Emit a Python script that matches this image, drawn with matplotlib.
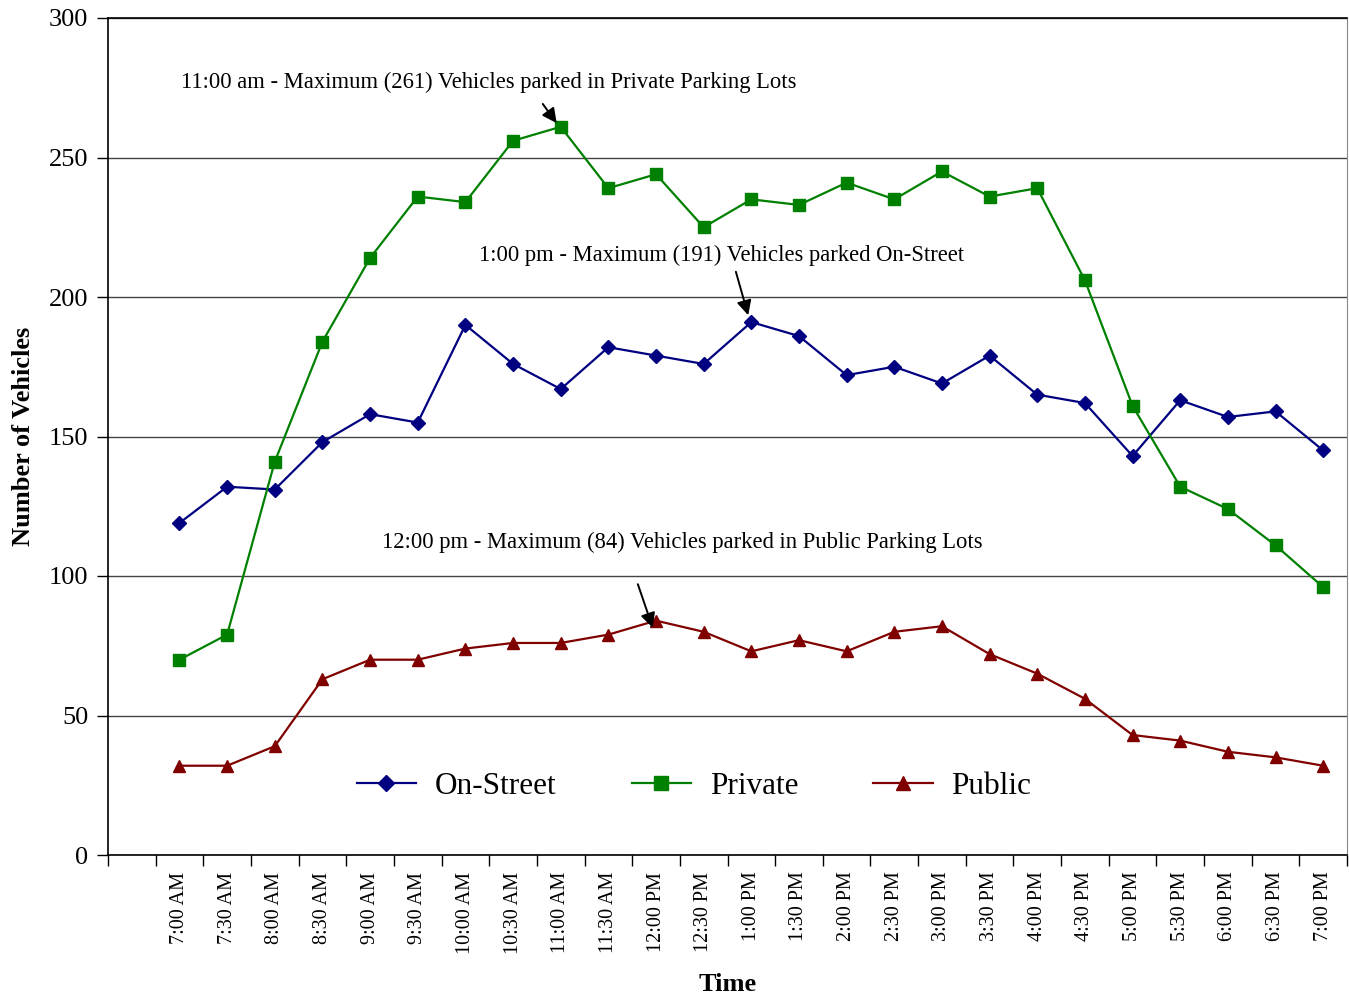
import matplotlib.pyplot as plt
import numpy as np

# half-hour count periods
times = ['7:00 AM', '7:30 AM', '8:00 AM', '8:30 AM', '9:00 AM', '9:30 AM',
         '10:00 AM', '10:30 AM', '11:00 AM', '11:30 AM', '12:00 PM', '12:30 PM',
         '1:00 PM', '1:30 PM', '2:00 PM', '2:30 PM', '3:00 PM', '3:30 PM',
         '4:00 PM', '4:30 PM', '5:00 PM', '5:30 PM', '6:00 PM', '6:30 PM', '7:00 PM']

on_street = [119, 132, 131, 148, 158, 155, 190, 176, 167, 182, 179, 176,
             191, 186, 172, 175, 169, 179, 165, 162, 143, 163, 157, 159, 145]
private = [70, 79, 141, 184, 214, 236, 234, 256, 261, 239, 244, 225,
           235, 233, 241, 235, 245, 236, 239, 206, 161, 132, 124, 111, 96]
public = [32, 32, 39, 63, 70, 70, 74, 76, 76, 79, 84, 80,
          73, 77, 73, 80, 82, 72, 65, 56, 43, 41, 37, 35, 32]

plt.rcParams['font.family'] = ['Liberation Serif', 'DejaVu Serif']

fig = plt.figure(figsize=(13.49, 9.98), dpi=100)
ax = fig.add_axes([108 / 1349, 1 - 855 / 998, 1239 / 1349, 837 / 998])

# first category slot is left empty, as in the original sheet
x = np.arange(1, len(times) + 1)

ax.plot(x, on_street, color='#000080', lw=1.6, marker='D', ms=7, label='On-Street')
ax.plot(x, private, color='#008000', lw=1.6, marker='s', ms=9, label='Private')
ax.plot(x, public, color='#800000', lw=1.6, marker='^', ms=9, label='Public')

ax.set_xlim(-0.5, len(times) + 0.5)
ax.set_ylim(0, 300)
ax.set_yticks(range(0, 301, 50))
ax.tick_params(axis='y', labelsize=19, length=8, width=1, direction='out', pad=6)
ax.yaxis.grid(True, color='#444444', lw=1)
ax.set_axisbelow(True)

ax.set_xticks(x)
ax.set_xticklabels(times, rotation=90, fontsize=14.5)
ax.tick_params(axis='x', which='major', length=0, pad=12)
ax.set_xticks(np.arange(-0.5, len(times) + 1), minor=True)
ax.tick_params(axis='x', which='minor', length=8, width=1, direction='out')

for s in ['left', 'bottom', 'top']:
    ax.spines[s].set_linewidth(1.2)
ax.spines['right'].set_color('#888888')

ax.set_ylabel('Number of Vehicles', fontsize=19, fontweight='bold', labelpad=10)
ax.set_xlabel('Time', fontsize=19, fontweight='bold', labelpad=14)

# peak annotations
arrow = dict(arrowstyle='-|>', color='black', lw=1.4, mutation_scale=22)

ax.text(7.5, 277, '11:00 am - Maximum (261) Vehicles parked in Private Parking Lots',
        fontsize=16.3, ha='center', va='center')
ax.annotate('', xy=(8.95, 261.5), xytext=(8.59, 270), arrowprops=arrow)

ax.text(12.37, 215, '1:00 pm - Maximum (191) Vehicles parked On-Street',
        fontsize=16.3, ha='center', va='center')
ax.annotate('', xy=(12.95, 192.5), xytext=(12.66, 210), arrowprops=arrow)

ax.text(11.55, 112, '12:00 pm - Maximum (84) Vehicles parked in Public Parking Lots',
        fontsize=16.3, ha='center', va='center')
ax.annotate('', xy=(10.95, 80.5), xytext=(10.60, 98), arrowprops=arrow)

ax.legend(loc='center', bbox_to_anchor=(0.473, 0.082), ncol=3, frameon=False,
          fontsize=22.5, handlelength=1.9, handletextpad=0.6, columnspacing=2.4,
          markerscale=1.1)

fig.savefig('out.png', dpi=100)
